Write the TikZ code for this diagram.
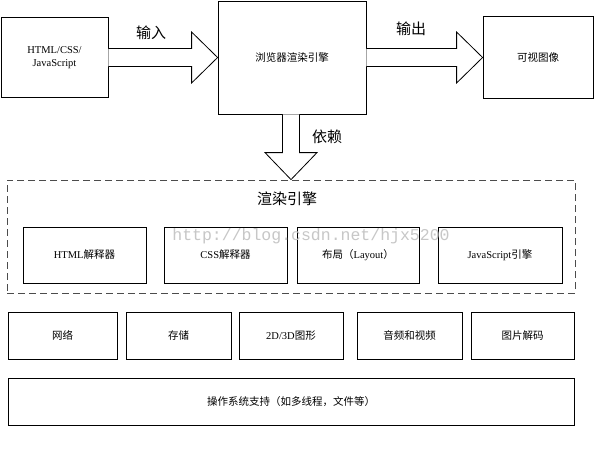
\documentclass[tikz,border=0pt]{standalone}
\usepackage{fontspec}
\setmainfont{Liberation Serif}
\newfontfamily\cjk{Noto Sans CJK SC}
\newfontfamily\wmfont{Liberation Mono}
\newcommand{\zh}[1]{{\cjk #1}}
\usetikzlibrary{calc}
\tikzset{
	box/.style 2 args={draw=black, line width=.8pt, fill=white, inner sep=0pt,
		minimum width=#1pt, minimum height=#2pt, align=center,
		font=\fontsize{10.5}{13}\selectfont},
	region/.style={draw=black!70, line width=.8pt, dash pattern=on 7pt off 4pt,
		minimum width=568pt, minimum height=113pt, inner sep=0pt},
	fatarrow/.style={draw=black, line width=.8pt, fill=white},
	biglabel/.style={font=\cjk\fontsize{15}{17}\selectfont}
}
\begin{document}
\begin{tikzpicture}[x=1pt, y=-1pt, line join=miter, >=stealth]
	\useasboundingbox (0,0) rectangle (602,451);
	%% hang tren
	\node[box={107}{80}] (src) at (54.5,57.5) {HTML/CSS/\\JavaScript};
	\node[box={148}{113}] (eng) at (292,57.5) {\zh{浏览器渲染引擎}};
	\node[box={110}{82}] (img) at (538,57.5) {\zh{可视图像}};
	
	%% khung net dut
	\node[region] (rend) at (291,236.5) {};
	\node[biglabel] (rendtitle) at (287,199) {渲染引擎};
	\foreach \n/\x/\w/\t in {html/84.5/123/{HTML\zh{解释器}},
		css/225.5/123/{CSS\zh{解释器}},
		layout/358/122/{\zh{布局（}Layout\zh{）}},
		js/500/124/{JavaScript\zh{引擎}}}
	\node[box={\w}{56}] (\n) at (\x,255) {\t};
	
	%% hang duoi
	\foreach \n/\x/\w/\t in {net/62.5/109/{\zh{网络}},
		store/178.5/105/{\zh{存储}},
		gfx/291/104/{2D/3D\zh{图形}},
		av/409.5/105/{\zh{音频和视频}},
		decode/522.5/103/{\zh{图片解码}}}
	\node[box={\w}{47}] (\n) at (\x,335.5) {\t};
	\node[box={566}{47}] (os) at (291,401.5) {\zh{操作系统支持（如多线程，文件等）}};
	
	%% mui ten
	\foreach \a/\b in {src/eng,eng/img}
	\draw[fatarrow] ($(\a.east)+(0,-9)$) -- ($(\b.west)+(-26,-9)$)
		-- ($(\b.west)+(-26,-25.5)$) -- (\b.west) -- ($(\b.west)+(-26,25.5)$)
		-- ($(\b.west)+(-26,9)$) -- ($(\a.east)+(0,9)$);
	\coordinate (dtop) at (eng.south -| rend.north);
	\draw[fatarrow] ($(dtop)+(-8.5,0)$) -- ($(rend.north)+(-8.5,-27)$)
		-- ($(rend.north)+(-26,-27)$) -- (rend.north) -- ($(rend.north)+(26,-27)$)
		-- ($(rend.north)+(8.5,-27)$) -- ($(dtop)+(8.5,0)$);
	\node[biglabel] (lin) at (151,33) {输入};
	\node[biglabel] (lout) at (411,29) {输出};
	\node[biglabel] (ldep) at (327,137) {依赖};
	
	\node[text=black!22, font=\wmfont\fontsize{16.5}{18}\selectfont] (wm) at (311,236)
		{http://blog.csdn.net/hjx5200};
\end{tikzpicture}
\end{document}
